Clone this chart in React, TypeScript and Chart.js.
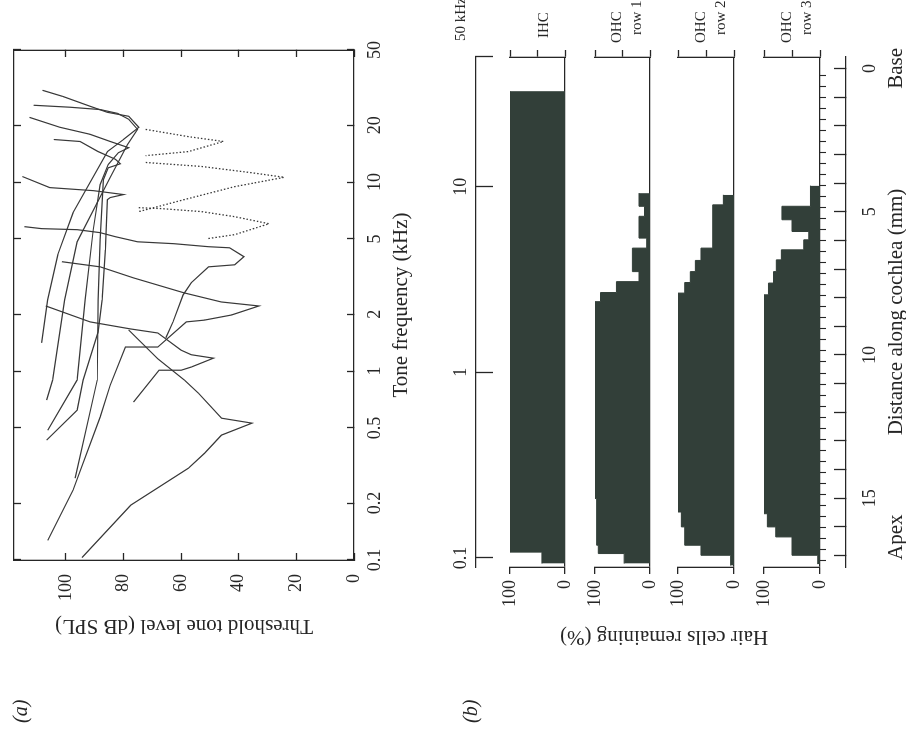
import React, { useEffect, useRef } from 'react';
import { Chart, registerables } from 'chart.js';

Chart.register(...registerables);

const FONT = "'Liberation Serif', 'Times New Roman', serif";
const INK = '#262626';
const LINE = '#383838';
const CELL = '#323f39';

// ---------------- Panel (a): single-fibre tuning curves ----------------
const freqTicksA = [0.1, 0.2, 0.5, 1, 2, 5, 10, 20, 50];
const levelTicksA = [0, 20, 40, 60, 80, 100];

// [tone frequency kHz, threshold dB SPL]
const curve1 = [[30.6, 108.1], [28.4, 101.1], [25.2, 91.6], [23.4, 85.6], [22.3, 78.2], [19.5, 74.7], [16.8, 80.0], [14.5, 85.6], [6.89, 97.5], [4.13, 102.8], [2.38, 106.3], [1.41, 108.4]];
const curve2 = [[25.5, 111.2], [24.9, 98.6], [24.2, 88.1], [23.1, 82.1], [21.5, 78.2], [19.0, 75.1], [15.8, 78.6], [10.6, 84.6], [4.83, 96.1], [2.38, 100.4], [0.896, 104.6], [0.702, 106.7]];
const curve3 = [[22.0, 112.6], [19.5, 102.1], [17.9, 91.6], [16.4, 84.6], [15.2, 78.2], [14.3, 81.8], [12.4, 85.3], [9.7, 88.1], [5.6, 90.5], [2.38, 93.3], [0.896, 96.1], [0.486, 106.3]];
const curve4 = [[16.8, 104.2], [16.4, 95.1], [14.5, 88.8], [13.2, 82.8], [12.5, 81.1], [11.9, 85.3], [10.3, 87.0], [4.95, 88.1], [2.38, 88.8], [0.896, 89.1], [0.271, 96.8]];
const curve5 = [[10.7, 115.1], [9.35, 105.6], [9.01, 90.5], [8.59, 80.0], [8.28, 84.6], [8.07, 85.6], [4.38, 86.3], [2.38, 87.4], [1.61, 88.8], [0.896, 94.0], [0.621, 96.1], [0.431, 106.7]];
const curve6 = [[5.81, 114.4], [5.67, 108.4], [5.6, 96.1], [5.4, 88.1], [5.14, 82.8], [4.83, 75.1], [4.72, 62.5], [4.55, 50.5], [4.49, 43.2], [4.03, 38.2], [3.65, 41.4], [3.56, 50.5], [2.93, 56.5], [2.53, 59.3], [1.82, 62.8], [1.5, 65.3]];
const curve7 = [[3.79, 101.4], [3.56, 88.1], [3.11, 76.5], [2.59, 58.9], [2.32, 46.0], [2.21, 33.0], [1.98, 42.5], [1.86, 51.9], [1.82, 58.2], [1.34, 68.1], [1.34, 79.3], [0.843, 84.6], [0.57, 88.1], [0.234, 97.5], [0.127, 106.3]];
const curve8 = [[2.21, 107.0], [1.82, 91.6], [1.67, 77.5], [1.59, 68.1], [1.29, 60.0], [1.22, 56.5], [1.17, 48.8], [1.05, 56.5], [1.01, 60.0], [1.01, 67.7], [0.685, 76.5]];
const curve9 = [[1.65, 78.2], [1.16, 68.1], [0.896, 58.9], [0.764, 54.0], [0.563, 46.0], [0.53, 35.4], [0.458, 46.0], [0.367, 51.9], [0.306, 57.5], [0.195, 77.5], [0.103, 94.4]];
const dotted1 = [[19.0, 72.3], [17.4, 57.5], [16.4, 45.3], [14.5, 57.5], [13.8, 72.3]];
const dotted2 = [[12.7, 72.3], [12.1, 53.0], [11.2, 35.4], [10.6, 24.2], [9.46, 41.4], [8.07, 59.0], [7.32, 69.5], [6.98, 74.7]];
const dotted3 = [[7.32, 74.7], [7.24, 67.0], [6.98, 53.0], [6.56, 41.4], [6.02, 29.5], [5.27, 41.4], [5.01, 51.2]];

const solidCurves = [curve1, curve2, curve3, curve4, curve5, curve6, curve7, curve8, curve9];
const dottedCurves = [dotted1, dotted2, dotted3];

// ---------------- Panel (b): hair cells remaining ----------------
const freqTicksB = [0.1, 1, 10, 50];
const distanceTicks = [0, 1, 2, 3, 4, 5, 6, 7, 8, 9, 10, 11, 12, 13, 14, 15, 16, 17];
const distanceLabelled = [0, 5, 10, 15];
const percentTicks = [0, 50, 100];

// bin edges (mm from base) and % remaining in each bin
const ihcEdges = [0.79, 16.88, 17.28];
const ihcPct = [100, 42];
const ohc1Edges = [4.35, 4.81, 5.16, 5.92, 6.27, 7.09, 7.44, 7.82, 8.14, 15.01, 16.64, 16.93, 17.28];
const ohc1Pct = [20, 10, 20, 6, 32, 20, 61, 90, 100, 97, 94, 47];
const ohc2Edges = [4.41, 4.76, 6.27, 6.7, 7.09, 7.47, 7.84, 15.48, 16.0, 16.64, 16.99, 17.35];
const ohc2Pct = [19, 38, 59, 69, 78, 88, 100, 94, 88, 59, 6];
const ohc3Edges = [4.09, 4.81, 5.28, 5.69, 5.98, 6.33, 6.68, 7.09, 7.49, 7.9, 15.54, 16.0, 16.35, 16.99, 17.3];
const ohc3Pct = [17, 68, 50, 20, 29, 69, 78, 83, 92, 100, 94, 79, 50, 4];

const rowTitles = ['IHC', 'OHC', 'OHC', 'OHC'];
const rowSubtitles = ['', 'row 1', 'row 2', 'row 3'];

function steps(edges: number[], pct: number[]) {
  const pts = pct.map((p, i) => ({ x: edges[i], y: p }));
  pts.push({ x: edges[edges.length - 1], y: pct[pct.length - 1] });
  return pts;
}

const axisBorder = { display: true, color: INK, width: 1.3 };

// fix an axis box size and drop Chart.js' label overflow padding
function fixW(w: number) {
  return (s: any) => {
    s.width = w;
    s.paddingTop = 0; s.paddingBottom = 0; s.paddingLeft = 0; s.paddingRight = 0;
  };
}
function fixH(h: number) {
  return (s: any) => {
    s.height = h;
    s.paddingTop = 0; s.paddingBottom = 0; s.paddingLeft = 0; s.paddingRight = 0;
  };
}

function makeChartA(canvas: HTMLCanvasElement) {
  const datasets: any[] = [
    ...solidCurves.map((c, i) => ({
      label: 'fibre ' + (i + 1),
      data: c.map(([f, l]) => ({ x: f, y: l })),
      showLine: true,
      borderColor: LINE,
      borderWidth: 1.2,
      pointRadius: 0,
      fill: false,
    })),
    ...dottedCurves.map((c, i) => ({
      label: 'dotted ' + (i + 1),
      data: c.map(([f, l]) => ({ x: f, y: l })),
      showLine: true,
      borderColor: LINE,
      borderWidth: 1.3,
      borderDash: [1.5, 2.0],
      pointRadius: 0,
      fill: false,
    })),
  ];
  const inTicks = { drawOnChartArea: false, tickLength: -7, tickColor: INK, tickWidth: 1.3 };
  return new Chart(canvas, {
    type: 'scatter',
    data: { datasets },
    options: {
      animation: false,
      responsive: false,
      devicePixelRatio: 1,
      layout: { padding: 0 },
      plugins: { legend: { display: false }, tooltip: { enabled: false } },
      scales: {
        x: {
          type: 'logarithmic', position: 'bottom', min: 0.1, max: 50,
          afterBuildTicks: (s: any) => { s.ticks = freqTicksA.map((v) => ({ value: v })); },
          afterFit: fixH(86),
          ticks: { autoSkip: false, maxRotation: 0, minRotation: 0, padding: 17, color: INK, font: { size: 18 }, callback: (v: any) => String(v) },
          grid: inTicks,
          border: axisBorder,
          title: { display: true, text: 'Tone frequency (kHz)', color: INK, font: { size: 21 }, padding: { top: 0, bottom: 26 } },
        },
        x2: {
          type: 'logarithmic', position: 'top', min: 0.1, max: 50,
          afterBuildTicks: (s: any) => { s.ticks = freqTicksA.map((v) => ({ value: v })); },
          afterFit: fixH(14),
          ticks: { display: false },
          grid: inTicks,
          border: axisBorder,
        },
        y: {
          type: 'linear', position: 'left', min: 0, max: 118,
          afterBuildTicks: (s: any) => { s.ticks = levelTicksA.map((v) => ({ value: v })); },
          afterFit: fixW(180),
          ticks: { padding: 21, color: INK, font: { size: 18 }, callback: (v: any) => String(v) },
          grid: inTicks,
          border: axisBorder,
          title: { display: true, text: 'Threshold tone level (dB SPL)', color: INK, font: { size: 21 }, padding: { top: 102, bottom: 0 } },
        },
        y2: {
          type: 'linear', position: 'right', min: 0, max: 118,
          afterBuildTicks: (s: any) => { s.ticks = levelTicksA.map((v) => ({ value: v })); },
          afterFit: fixW(50),
          ticks: { display: false },
          grid: inTicks,
          border: axisBorder,
        },
      },
    } as any,
  });
}

const panelBText = {
  id: 'panelBText',
  afterDraw(chart: any) {
    const ctx = chart.ctx;
    const xf = chart.scales.xf;
    const xd = chart.scales.xd;
    const ids = ['yIHC', 'yO1', 'yO2', 'yO3'];
    ctx.save();
    ctx.fillStyle = INK;
    ctx.textBaseline = 'middle';
    ctx.textAlign = 'left';
    ctx.font = '15px ' + FONT;
    const x50 = xf.getPixelForValue(50);
    ctx.fillText('50 kHz', x50 + 16, xf.bottom - 15);
    ids.forEach((id, i) => {
      const s = chart.scales[id];
      const c = (s.top + s.bottom) / 2;
      if (rowSubtitles[i]) {
        ctx.fillText(rowTitles[i], x50 + 14, c - 5);
        ctx.fillText(rowSubtitles[i], x50 + 22, c + 15);
      } else {
        ctx.fillText(rowTitles[i], x50 + 19, c + 7);
      }
    });
    ctx.font = '21px ' + FONT;
    const ty = xd.bottom - 14;
    ctx.textAlign = 'center';
    ctx.fillText('Base', xd.getPixelForValue(0), ty);
    ctx.textAlign = 'left';
    ctx.fillText('Apex', xd.left + 7, ty);
    ctx.restore();
  },
};

function makeChartB(canvas: HTMLCanvasElement) {
  const rows = [
    { id: 'yIHC', data: steps(ihcEdges, ihcPct) },
    { id: 'yO1', data: steps(ohc1Edges, ohc1Pct) },
    { id: 'yO2', data: steps(ohc2Edges, ohc2Pct) },
    { id: 'yO3', data: steps(ohc3Edges, ohc3Pct) },
  ];
  const datasets: any[] = rows.map((row, i) => ({
    label: rowTitles[i] + ' ' + rowSubtitles[i],
    data: row.data,
    xAxisID: 'xd',
    yAxisID: row.id,
    stepped: 'before',
    fill: 'origin',
    backgroundColor: CELL,
    borderColor: CELL,
    borderWidth: 1,
    pointRadius: 0,
  }));

  // stacked layout heights (px) for: gap, IHC, gap, OHC1, gap, OHC2, gap, OHC3
  const heights = [34, 55, 30, 55, 28, 56, 30, 56];
  const kinds = ['gap0', 'IHC', 'gap1', 'O1', 'gap2', 'O2', 'gap3', 'O3'];
  const scales: any = {};
  kinds.forEach((k, i) => {
    const isRow = !k.startsWith('gap');
    const left: any = {
      type: 'linear', position: 'left', stack: 'rows', stackWeight: heights[i], weight: 8 - i,
      min: 0, max: isRow ? 100 : 1,
      afterFit: fixW(173),
    };
    const right: any = {
      type: 'linear', position: 'right', stack: 'rows', stackWeight: heights[i], weight: i + 1,
      min: 0, max: isRow ? 100 : 1,
      afterFit: fixW(57),
    };
    if (isRow) {
      Object.assign(left, {
        afterBuildTicks: (s: any) => { s.ticks = percentTicks.map((v) => ({ value: v })); },
        ticks: { padding: 6, color: INK, font: { size: 18 }, callback: (v: any) => (v === 50 ? '' : String(v)) },
        grid: {
          drawOnChartArea: true,
          color: (c: any) => (c.tick && c.tick.value === 0 ? INK : 'rgba(0,0,0,0)'),
          lineWidth: 1.3, tickColor: INK, tickWidth: 1.3, tickLength: 7,
        },
        border: axisBorder,
      });
      Object.assign(right, {
        afterBuildTicks: (s: any) => { s.ticks = percentTicks.map((v) => ({ value: v })); },
        ticks: { display: false },
        grid: { drawOnChartArea: false, tickColor: INK, tickWidth: 1.3, tickLength: 7 },
        border: axisBorder,
      });
    } else if (k === 'gap2') {
      Object.assign(left, {
        display: true,
        ticks: { display: false },
        grid: { display: false },
        border: { display: false },
        title: { display: true, text: 'Hair cells remaining (%)', color: INK, font: { size: 21 }, padding: { top: 91, bottom: 0 } },
      });
      right.display = false;
    } else {
      left.display = false;
      right.display = false;
    }
    scales[(isRow ? 'y' : 'l') + k] = left;
    scales['r' + k] = right;
  });

  scales.xf = {
    type: 'logarithmic', position: 'top', min: 0.0894, max: 50,
    afterBuildTicks: (s: any) => { s.ticks = freqTicksB.map((v) => ({ value: v })); },
    afterFit: fixH(46),
    ticks: { autoSkip: false, maxRotation: 0, minRotation: 0, padding: 21, color: INK, font: { size: 18 }, callback: (v: any) => (v === 50 ? '' : String(v)) },
    grid: { drawOnChartArea: false, tickLength: -17, tickColor: INK, tickWidth: 1.3 },
    border: axisBorder,
  };
  scales.xb = {
    type: 'linear', position: 'bottom', weight: 1, reverse: true, min: -0.4, max: 17.4,
    afterBuildTicks: (s: any) => {
      const t: any[] = [];
      for (let d = 0.245; d < 17.35; d += 0.3846) t.push({ value: d });
      s.ticks = t;
    },
    afterFit: fixH(26),
    ticks: { display: false },
    grid: { drawOnChartArea: false, tickLength: 6, tickColor: INK, tickWidth: 1.1 },
    border: { display: false },
  };
  scales.xd = {
    type: 'linear', position: 'bottom', weight: 2, reverse: true, min: -0.4, max: 17.4,
    afterBuildTicks: (s: any) => { s.ticks = distanceTicks.map((v) => ({ value: v })); },
    afterFit: fixH(64),
    ticks: { autoSkip: false, maxRotation: 0, minRotation: 0, padding: 25, color: INK, font: { size: 18 }, callback: (v: any) => (distanceLabelled.includes(v) ? String(v) : '') },
    grid: { drawOnChartArea: false, tickLength: -12, tickColor: INK, tickWidth: 1.3 },
    border: axisBorder,
    title: { display: true, text: 'Distance along cochlea (mm)', color: INK, font: { size: 21 }, padding: { top: 0, bottom: 1 } },
  };

  return new Chart(canvas, {
    type: 'line',
    data: { datasets },
    options: {
      animation: false,
      responsive: false,
      devicePixelRatio: 1,
      layout: { padding: 0 },
      plugins: { legend: { display: false }, tooltip: { enabled: false } },
      scales,
    } as any,
    plugins: [panelBText],
  });
}

export default function App() {
  const refA = useRef<HTMLCanvasElement>(null);
  const refB = useRef<HTMLCanvasElement>(null);

  useEffect(() => {
    Chart.defaults.font.family = FONT;
    Chart.defaults.color = INK;
    const a = makeChartA(refA.current as HTMLCanvasElement);
    const b = makeChartB(refB.current as HTMLCanvasElement);
    return () => {
      a.destroy();
      b.destroy();
    };
  }, []);

  const label: React.CSSProperties = {
    position: 'absolute',
    font: 'italic 20px ' + FONT,
    color: INK,
    lineHeight: '22px',
    whiteSpace: 'nowrap',
  };

  return (
    <div
      style={{
        position: 'fixed',
        left: 0,
        top: 0,
        width: 740,
        height: 906,
        transformOrigin: '0 0',
        transform: 'translate(0px, 740px) rotate(-90deg)',
        background: '#fff',
        overflow: 'hidden',
      }}
    >
      <canvas ref={refA} width={740} height={440} style={{ position: 'absolute', left: 0, top: 0, display: 'block' }} />
      <canvas ref={refB} width={740} height={480} style={{ position: 'absolute', left: 0, top: 430, display: 'block' }} />
      <span style={{ ...label, left: 17, top: 9 }}>(a)</span>
      <span style={{ ...label, left: 17, top: 459 }}>(b)</span>
    </div>
  );
}
